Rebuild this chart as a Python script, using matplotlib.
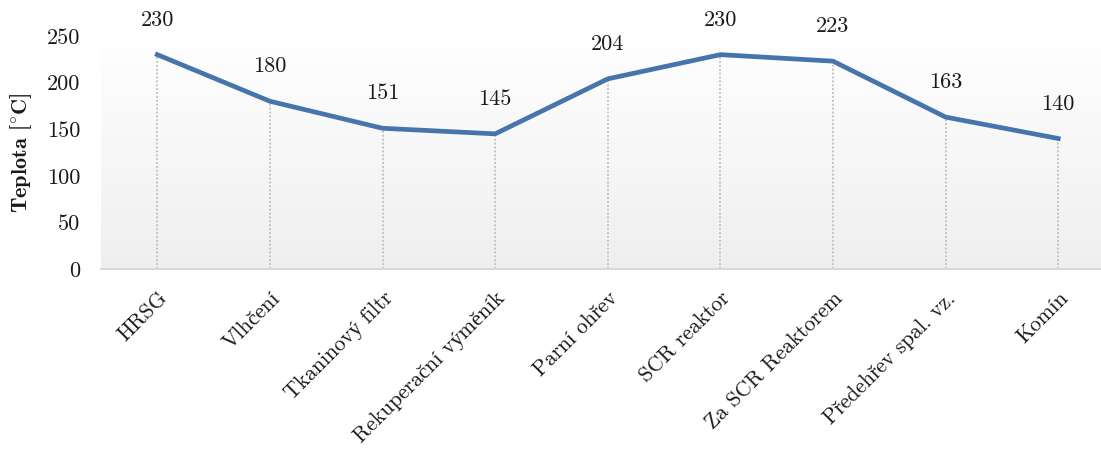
import numpy as np
import matplotlib
matplotlib.use("Agg")
import matplotlib.pyplot as plt

# data
stations = ["HRSG", "Vlhčení", "Tkaninový filtr", "Rekuperační výměník", "Parní ohřev",
            "SCR reaktor", "Za SCR Reaktorem", "Předehřev spal. vz.", "Komín"]
temps = [230, 180, 151, 145, 204, 230, 223, 163, 140]
yticks = [0, 50, 100, 150, 200, 250]

plt.rcParams['font.family'] = ['cmr10', 'Liberation Serif']
plt.rcParams['mathtext.fontset'] = 'cm'
plt.rcParams['axes.formatter.use_mathtext'] = True

FS = 16
TXT = '#1a1a1a'

fig = plt.figure(figsize=(11.01, 4.5), dpi=100)
ax = fig.add_axes([101 / 1101, 1 - 269 / 450, 1000 / 1101, 233 / 450])

x = np.arange(len(stations))
ax.set_xlim(-0.5, 8.38)
ax.set_ylim(0, 250)

# gradient background (white top -> light gray bottom)
grad = np.linspace(0, 1, 256).reshape(-1, 1)
ax.imshow(grad, extent=[-0.5, 8.38, 0, 250], aspect='auto', origin='upper',
          cmap=matplotlib.colors.LinearSegmentedColormap.from_list('bg', ['#ffffff', '#efefef']),
          zorder=0)

# drop lines
ax.vlines(x, 0, temps, colors='#c4c4c4', linestyles=(0, (1, 1)), linewidth=1.4, zorder=1)
ax.plot(x, temps, color='#4674AB', linewidth=3.4, solid_joinstyle='round', zorder=3)

for xi, t in zip(x, temps):
    ax.annotate(str(t), (xi, t), xytext=(0, 18), textcoords='offset points',
                ha='center', va='bottom', fontsize=FS, color=TXT, annotation_clip=False)

for s in ['top', 'right', 'left']:
    ax.spines[s].set_visible(False)
ax.spines['bottom'].set_color('#d9d9d9')
ax.spines['bottom'].set_linewidth(1.5)

ax.set_yticks(yticks)
ax.set_yticklabels([str(v) for v in yticks], fontsize=FS, color=TXT)
ax.tick_params(axis='y', length=0, pad=15)
ax.set_xticks(x)
ax.set_xticklabels(stations, rotation=45, ha='right', rotation_mode='anchor', fontsize=15.5,
                   color=TXT)
ax.tick_params(axis='x', length=0, pad=14)

ax.set_ylabel(r"Teplota [$^{\circ}$C]", fontsize=FS, fontweight='bold',
              family=['cmb10', 'Liberation Serif'], labelpad=9, color=TXT)

fig.savefig("out.png", dpi=100, facecolor='white')
